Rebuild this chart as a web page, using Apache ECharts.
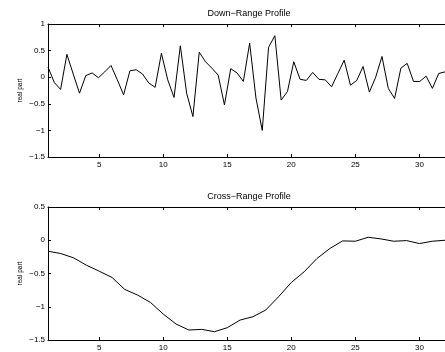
<!DOCTYPE html>
<html>
<head>
<meta charset="utf-8">
<script src="https://cdn.jsdelivr.net/npm/echarts@6/dist/echarts.min.js"></script>
<style>
  html, body { margin: 0; padding: 0; background: #fff; }
  #chart { width: 445px; height: 352px; }
</style>
</head>
<body>
<div id="chart"></div>
<script>
// down-range profile, 64 samples spread over 1..32
const downRange = [
  0.19, -0.10, -0.23, 0.43, 0.06, -0.30, 0.03, 0.08, -0.01, 0.10,
  0.22, -0.05, -0.33, 0.12, 0.14, 0.06, -0.11, -0.19, 0.45, -0.05,
  -0.38, 0.59, -0.30, -0.74, 0.47, 0.29, 0.17, 0.04, -0.52, 0.16,
  0.08, -0.08, 0.64, -0.39, -1.00, 0.56, 0.78, -0.43, -0.27, 0.29,
  -0.04, -0.06, 0.09, -0.04, -0.05, -0.18, 0.07, 0.32, -0.15, -0.06,
  0.20, -0.28, 0.00, 0.39, -0.21, -0.40, 0.17, 0.26, -0.08, -0.08,
  0.02, -0.21, 0.07, 0.10
]
// cross-range profile, one sample per integer 1..32
const crossRange = [
  -0.165, -0.20, -0.265, -0.375, -0.465, -0.56, -0.74, -0.825, -0.935, -1.11,
  -1.26, -1.35, -1.34, -1.375, -1.315, -1.20, -1.15, -1.05, -0.85, -0.635,
  -0.475, -0.275, -0.125, -0.01, -0.015, 0.045, 0.02, -0.015, -0.005, -0.05,
  -0.015, 0.0
]
const xTicks = [5, 10, 15, 20, 25, 30]

const downX = downRange.map((_, i) => 1 + i * 31 / (downRange.length - 1))
const crossX = crossRange.map((_, i) => i + 1)

const FONT = 'Liberation Sans, Arial, sans-serif'
const minus = v => String(v).replace('-', '\u2212')

const chart = echarts.init(document.getElementById('chart'), null, { renderer: 'canvas' })

function xAxisPair(gridIndex) {
  const base = {
    type: 'value',
    gridIndex,
    min: 1,
    max: 32,
    splitLine: { show: false },
    axisLine: { show: true, onZero: false, lineStyle: { color: '#000', width: 1 } },
    axisTick: { show: true, inside: true, length: 3, customValues: xTicks, lineStyle: { color: '#000' } }
  }
  return [
    {
      ...base,
      position: 'bottom',
      axisLabel: { show: true, customValues: xTicks, color: '#000', fontSize: 8, fontFamily: FONT, margin: 4 }
    },
    {
      ...base,
      position: 'top',
      axisLabel: { show: false }
    }
  ]
}

function yAxis(gridIndex, min, max) {
  return {
    type: 'value',
    gridIndex,
    min,
    max,
    interval: 0.5,
    position: 'left',
    name: 'real part',
    nameLocation: 'middle',
    nameRotate: 90,
    nameGap: 24,
    nameMoveOverlap: false,
    nameTextStyle: { color: '#000', fontSize: 6.5, fontFamily: FONT },
    splitLine: { show: false },
    axisLine: { show: true, onZero: false, lineStyle: { color: '#000', width: 1 } },
    axisTick: { show: true, inside: true, length: 3, lineStyle: { color: '#000' } },
    axisLabel: { color: '#000', fontSize: 8, fontFamily: FONT, margin: 3, formatter: minus }
  }
}

const titleStyle = { color: '#000', fontSize: 9, fontWeight: 'normal', fontFamily: FONT }

const option = {
  animation: false,
  backgroundColor: '#fff',
  title: [
    { text: 'Down\u2212Range Profile', left: 249, top: 9, padding: 0, textAlign: 'center', textStyle: titleStyle },
    { text: 'Cross\u2212Range Profile', left: 249, top: 192, padding: 0, textAlign: 'center', textStyle: titleStyle }
  ],
  grid: [
    { left: 48, top: 24, width: 402, height: 133 },
    { left: 48, top: 207, width: 402, height: 133 }
  ],
  xAxis: [...xAxisPair(0), ...xAxisPair(1)],
  yAxis: [yAxis(0, -1.5, 1), yAxis(1, -1.5, 0.5)],
  series: [
    {
      type: 'line',
      xAxisIndex: 0,
      yAxisIndex: 0,
      data: downX.map((x, i) => [x, downRange[i]]),
      showSymbol: false,
      lineStyle: { color: '#000', width: 1 }
    },
    {
      type: 'line',
      xAxisIndex: 2,
      yAxisIndex: 1,
      data: crossX.map((x, i) => [x, crossRange[i]]),
      showSymbol: false,
      lineStyle: { color: '#000', width: 1 }
    }
  ]
}

chart.setOption(option)
</script>
</body>
</html>
